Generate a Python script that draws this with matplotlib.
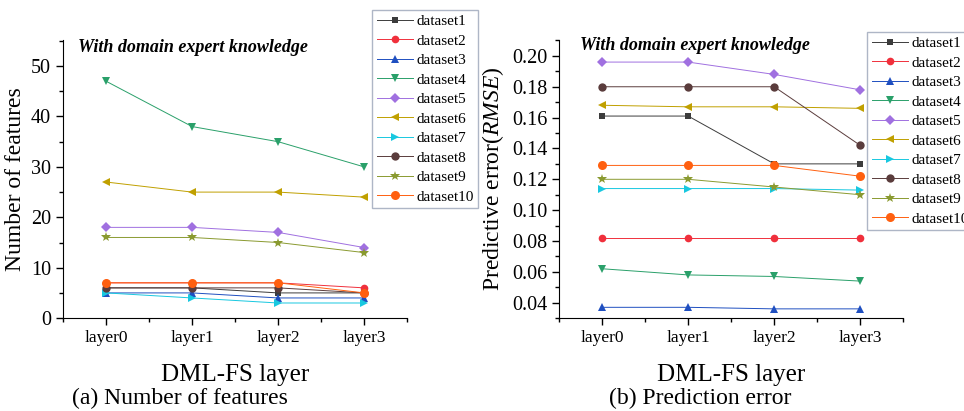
import numpy as np
import matplotlib
matplotlib.use('Agg')
import matplotlib.pyplot as plt
from matplotlib.ticker import MultipleLocator

plt.rcParams['font.family'] = ['Liberation Serif', 'DejaVu Serif']
plt.rcParams['mathtext.fontset'] = 'custom'
plt.rcParams['mathtext.rm'] = 'Liberation Serif'
plt.rcParams['mathtext.it'] = 'Liberation Serif:italic'

layers = ['layer0', 'layer1', 'layer2', 'layer3']
names = ['dataset%d' % i for i in range(1, 11)]

# number of selected features per layer
n_features = [
    [6, 6, 5, 5],
    [7, 7, 7, 6],
    [5, 5, 4, 4],
    [47, 38, 35, 30],
    [18, 18, 17, 14],
    [27, 25, 25, 24],
    [5, 4, 3, 3],
    [6, 6, 6, 5],
    [16, 16, 15, 13],
    [7, 7, 7, 5],
]

# predictive error (RMSE) per layer
rmse = [
    [0.161, 0.161, 0.130, 0.130],
    [0.082, 0.082, 0.082, 0.082],
    [0.037, 0.037, 0.036, 0.036],
    [0.062, 0.058, 0.057, 0.054],
    [0.196, 0.196, 0.188, 0.178],
    [0.168, 0.167, 0.167, 0.166],
    [0.114, 0.114, 0.114, 0.113],
    [0.180, 0.180, 0.180, 0.142],
    [0.120, 0.120, 0.115, 0.110],
    [0.129, 0.129, 0.129, 0.122],
]

colors = ['#3c3c3c', '#f0303c', '#1f4fc0', '#2aa06a', '#a070e0',
          '#c0a000', '#18c8e0', '#5a3c3c', '#8a9a30', '#ff6010']
markers = ['s', 'o', '^', 'v', 'D', '<', '>', 'o', '*', 'o']
msizes = [5, 5.5, 6, 6, 5, 6, 6, 6, 7, 6.5]

fig = plt.figure(figsize=(9.64, 4.11), dpi=100)
ax1 = fig.add_axes([0.0654, 0.226, 0.357, 0.677])
ax2 = fig.add_axes([0.580, 0.226, 0.357, 0.677])

x = np.arange(len(layers))


def draw(ax, data):
    for i, vals in enumerate(data):
        ax.plot(x, vals, color=colors[i], marker=markers[i], ms=msizes[i],
                lw=0.7, label=names[i], markeredgewidth=0)
    ax.set_xlim(-0.5, 3.5)
    ax.set_xticks(x)
    ax.set_xticklabels(layers, fontsize=12.5)
    ax.xaxis.set_minor_locator(MultipleLocator(0.5))
    ax.spines['top'].set_visible(False)
    ax.spines['right'].set_visible(False)
    ax.tick_params(axis='y', labelsize=14.5)
    ax.tick_params(which='major', length=5, width=1)
    ax.tick_params(which='minor', length=3, width=1)
    ax.set_xlabel('DML-FS layer', fontsize=18, labelpad=13)


draw(ax1, n_features)
ax1.set_ylim(0, 55.2)
ax1.yaxis.set_major_locator(MultipleLocator(10))
ax1.yaxis.set_minor_locator(MultipleLocator(5))
ax1.set_ylabel('Number of features', fontsize=17, labelpad=4)

draw(ax2, rmse)
ax2.set_ylim(0.03, 0.2104)
ax2.yaxis.set_major_locator(MultipleLocator(0.02))
ax2.yaxis.set_minor_locator(MultipleLocator(0.01))
ax2.yaxis.set_major_formatter(plt.FormatStrFormatter('%.2f'))
ax2.set_ylabel(r'Predictive error($\mathit{RMSE}$)', fontsize=17, labelpad=4)

for ax, xy in [(ax1, (78, 48)), (ax2, (580, 45))]:
    fig.text(xy[0] / 964, 1 - xy[1] / 411, 'With domain expert knowledge',
             fontsize=13, fontweight='bold', fontstyle='italic',
             va='center', ha='left')

for ax, anchor in [(ax1, (372 / 964, 1 - 10 / 411)), (ax2, (867 / 964, 1 - 32 / 411))]:
    leg = ax.legend(loc='upper left', bbox_to_anchor=anchor,
                    bbox_transform=fig.transFigure, fontsize=11,
                    labelspacing=0.38, handlelength=2.4, handletextpad=0.2,
                    borderpad=0.3, borderaxespad=0, fancybox=False,
                    frameon=True)
    leg.get_frame().set_edgecolor('#9aa4b8')
    leg.get_frame().set_linewidth(1)

fig.text(180 / 964, 1 - 398 / 411, '(a) Number of features', fontsize=17,
         ha='center', va='center')
fig.text(700 / 964, 1 - 398 / 411, '(b) Prediction error', fontsize=17,
         ha='center', va='center')

fig.savefig('out.png', dpi=100)
